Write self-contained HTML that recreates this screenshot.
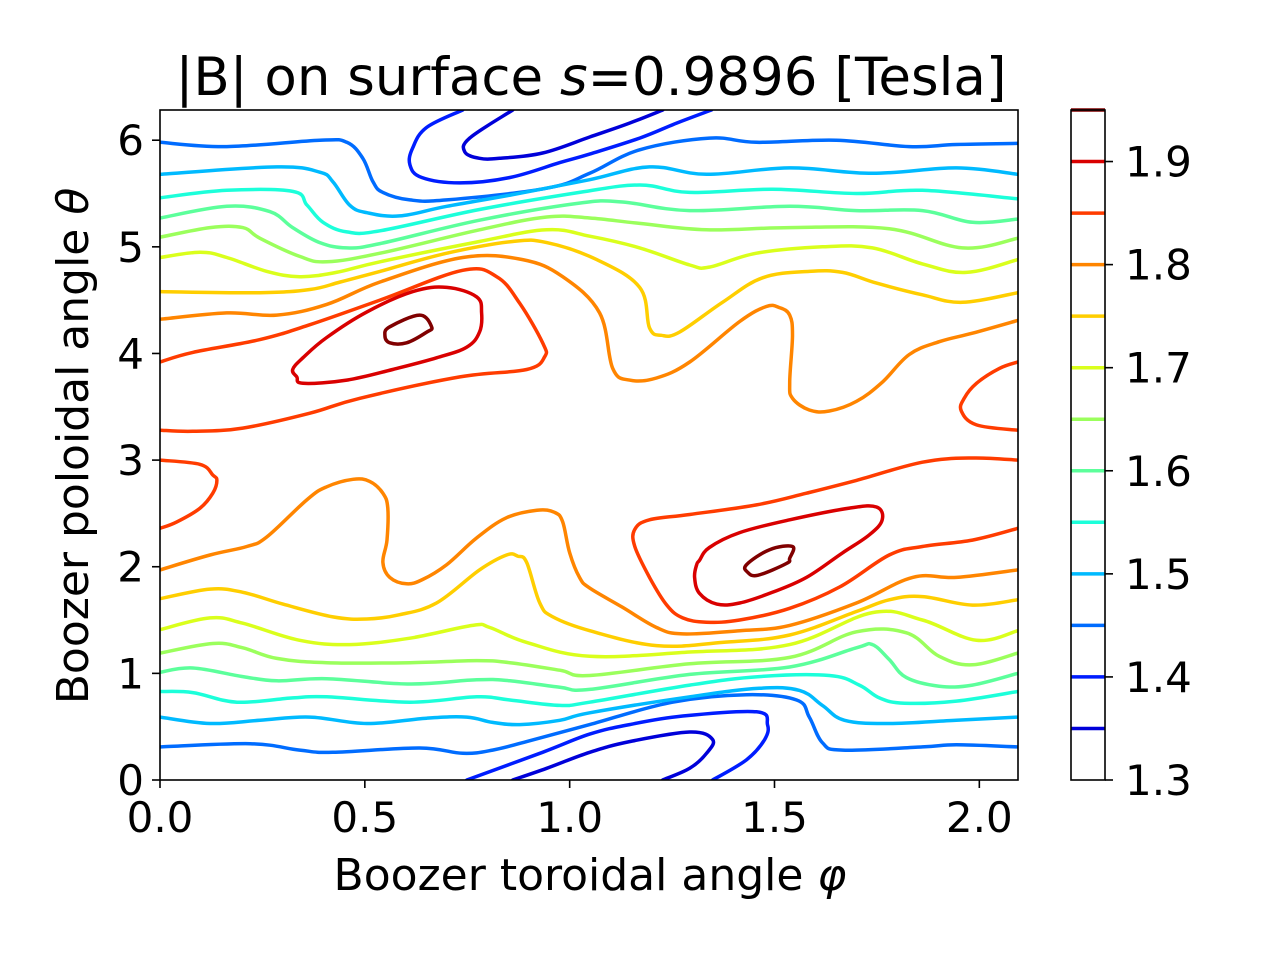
<!DOCTYPE html>
<html><head><meta charset="utf-8"><style>
body{margin:0;background:#fff}
svg text{font-family:"DejaVu Sans","Liberation Sans",sans-serif;fill:#000}
</style></head><body>
<svg id="fig" width="1280" height="960" xmlns="http://www.w3.org/2000/svg">
<rect width="1280" height="960" fill="#fff"/>
<defs><clipPath id="pc"><rect x="160" y="110" width="858" height="670"/></clipPath></defs>
<text x="591" y="95" font-size="53" text-anchor="middle">|B| on surface <tspan font-style="italic">s</tspan>=0.9896 [Tesla]</text>
<g id="lines" clip-path="url(#pc)"></g>
<rect x="160" y="110" width="858" height="670" fill="none" stroke="#000" stroke-width="1.6"/>
<g id="axes"></g>
<text x="590" y="890" font-size="44" text-anchor="middle">Boozer toroidal angle <tspan font-style="italic">φ</tspan></text>
<text transform="translate(88,446) rotate(-90)" font-size="44" text-anchor="middle">Boozer poloidal angle <tspan font-style="italic">θ</tspan></text>
<g id="cbar"></g>
</svg>
<script>
const xTicks=[0,0.5,1.0,1.5,2.0];
const xTickLabels=["0.0","0.5","1.0","1.5","2.0"];
const yTicks=[0,1,2,3,4,5,6];
const cbTicks=[1.3,1.4,1.5,1.6,1.7,1.8,1.9];
const cbLevels=[1.35,1.40,1.45,1.50,1.55,1.60,1.65,1.70,1.75,1.80,1.85,1.90,1.95];
const contourLevels=[1.35,1.35,1.40,1.40,1.45,1.45,1.50,1.50,1.55,1.55,1.60,1.60,1.65,1.65,1.70,1.70,1.75,1.75,1.80,1.80,1.85,1.85,1.85,1.90,1.90,1.95,1.95];
const contourPoints=[
[[0.861,6.283],[0.756,6.02],[0.744,5.89],[0.780,5.83],[0.829,5.83],[0.934,5.88],[1.049,6.03],[1.146,6.16],[1.227,6.283]],
[[0.861,0],[0.944,0.11],[1.049,0.26],[1.146,0.36],[1.293,0.45],[1.349,0.38],[1.334,0.25],[1.293,0.11],[1.227,0]],
[[0.739,6.283],[0.651,6.12],[0.617,5.93],[0.610,5.77],[0.639,5.65],[0.732,5.60],[0.854,5.65],[0.976,5.79],[1.049,5.87],[1.171,6.02],[1.261,6.16],[1.346,6.283]],
[[0.749,0],[0.934,0.26],[1.049,0.43],[1.146,0.52],[1.276,0.60],[1.456,0.64],[1.483,0.52],[1.476,0.38],[1.432,0.19],[1.349,0]],
[[0,5.98],[0.163,5.94],[0.390,6.00],[0.456,5.98],[0.495,5.83],[0.520,5.61],[0.544,5.51],[0.610,5.44],[0.700,5.44],[0.944,5.55],[1.049,5.69],[1.171,5.91],[1.341,6.02],[1.456,5.98],[1.651,6.00],[1.829,5.94],[1.944,5.96],[2.094,5.97]],
[[0,0.31],[0.220,0.34],[0.341,0.28],[0.422,0.26],[0.634,0.30],[0.739,0.25],[0.812,0.28],[0.895,0.36],[1.049,0.52],[1.251,0.73],[1.432,0.80],[1.554,0.75],[1.585,0.59],[1.617,0.35],[1.666,0.28],[1.861,0.31],[1.944,0.33],[2.094,0.31]],
[[0,5.68],[0.285,5.75],[0.390,5.70],[0.422,5.61],[0.463,5.39],[0.505,5.32],[0.585,5.29],[0.700,5.38],[0.861,5.49],[1.049,5.63],[1.195,5.75],[1.334,5.68],[1.537,5.74],[1.739,5.69],[1.944,5.74],[2.094,5.68]],
[[0,0.59],[0.122,0.53],[0.244,0.56],[0.366,0.59],[0.505,0.53],[0.651,0.58],[0.749,0.59],[0.812,0.54],[0.878,0.52],[0.976,0.56],[1.049,0.63],[1.293,0.78],[1.463,0.86],[1.561,0.84],[1.617,0.70],[1.671,0.56],[1.780,0.53],[1.944,0.56],[2.094,0.59]],
[[0,5.46],[0.163,5.53],[0.324,5.52],[0.359,5.39],[0.398,5.23],[0.456,5.14],[0.537,5.15],[0.780,5.35],[1.024,5.51],[1.171,5.58],[1.293,5.51],[1.495,5.54],[1.700,5.50],[1.861,5.53],[2.094,5.45]],
[[0,0.83],[0.080,0.82],[0.188,0.73],[0.324,0.77],[0.407,0.78],[0.610,0.73],[0.773,0.78],[0.854,0.75],[0.976,0.70],[1.049,0.73],[1.293,0.89],[1.463,0.97],[1.634,0.98],[1.707,0.89],[1.756,0.77],[1.817,0.72],[1.944,0.74],[2.094,0.83]],
[[0,5.27],[0.163,5.38],[0.268,5.33],[0.324,5.18],[0.390,5.04],[0.456,4.99],[0.537,5.03],[0.780,5.25],[1.024,5.41],[1.129,5.42],[1.293,5.34],[1.537,5.38],[1.700,5.34],[1.861,5.34],[1.983,5.23],[2.094,5.26]],
[[0,1.01],[0.080,1.05],[0.202,0.97],[0.285,0.93],[0.407,0.95],[0.610,0.90],[0.773,0.94],[0.854,0.93],[0.976,0.87],[1.049,0.85],[1.293,0.99],[1.537,1.06],[1.700,1.24],[1.739,1.27],[1.780,1.13],[1.822,0.96],[1.902,0.88],[1.983,0.89],[2.094,1.00]],
[[0,5.09],[0.122,5.18],[0.202,5.18],[0.244,5.08],[0.341,4.91],[0.407,4.86],[0.537,4.94],[0.780,5.16],[0.944,5.28],[1.049,5.27],[1.171,5.22],[1.334,5.16],[1.537,5.18],[1.780,5.17],[1.959,4.99],[2.094,5.08]],
[[0,1.19],[0.129,1.28],[0.202,1.24],[0.285,1.14],[0.407,1.10],[0.610,1.10],[0.773,1.12],[0.854,1.10],[0.976,1.03],[1.049,0.98],[1.293,1.09],[1.537,1.15],[1.700,1.39],[1.822,1.38],[1.902,1.16],[1.983,1.08],[2.094,1.19]],
[[0,4.90],[0.098,4.95],[0.163,4.90],[0.261,4.77],[0.341,4.72],[0.430,4.76],[0.537,4.86],[0.780,5.05],[0.944,5.16],[1.049,5.10],[1.171,4.99],[1.293,4.83],[1.341,4.81],[1.456,4.94],[1.617,5.00],[1.739,4.99],[1.861,4.84],[1.968,4.76],[2.094,4.88]],
[[0,1.41],[0.122,1.52],[0.202,1.47],[0.341,1.31],[0.463,1.27],[0.610,1.33],[0.763,1.45],[0.805,1.43],[0.895,1.29],[1.049,1.16],[1.293,1.20],[1.537,1.27],[1.739,1.57],[1.861,1.50],[1.993,1.31],[2.094,1.40]],
[[0,4.58],[0.244,4.57],[0.366,4.60],[0.440,4.67],[0.537,4.77],[0.700,4.94],[0.861,5.05],[0.944,5.04],[1.066,4.88],[1.171,4.62],[1.195,4.24],[1.224,4.17],[1.268,4.20],[1.373,4.48],[1.471,4.71],[1.585,4.77],[1.666,4.76],[1.749,4.66],[1.861,4.55],[1.959,4.48],[2.094,4.57]],
[[0,1.70],[0.122,1.79],[0.202,1.76],[0.300,1.65],[0.422,1.53],[0.505,1.51],[0.585,1.55],[0.675,1.66],[0.780,1.97],[0.846,2.11],[0.873,2.10],[0.895,2.04],[0.927,1.66],[0.959,1.53],[1.049,1.40],[1.212,1.26],[1.373,1.29],[1.537,1.36],[1.700,1.58],[1.780,1.69],[1.861,1.72],[1.983,1.64],[2.094,1.69]],
[[0,4.32],[0.163,4.38],[0.285,4.36],[0.407,4.46],[0.537,4.67],[0.739,4.90],[0.885,4.88],[0.983,4.72],[1.073,4.38],[1.105,3.86],[1.146,3.75],[1.212,3.77],[1.293,3.92],[1.415,4.30],[1.480,4.44],[1.512,4.43],[1.537,4.36],[1.544,4.17],[1.537,3.73],[1.544,3.58],[1.585,3.47],[1.634,3.46],[1.700,3.55],[1.763,3.73],[1.829,3.99],[1.902,4.11],[1.983,4.19],[2.094,4.31]],
[[0,1.97],[0.122,2.11],[0.212,2.19],[0.261,2.28],[0.359,2.63],[0.407,2.75],[0.471,2.82],[0.512,2.80],[0.544,2.69],[0.556,2.55],[0.554,2.25],[0.544,2.04],[0.561,1.90],[0.602,1.84],[0.641,1.88],[0.700,2.02],[0.773,2.27],[0.846,2.46],[0.920,2.53],[0.963,2.51],[0.983,2.42],[1.000,2.13],[1.024,1.90],[1.049,1.80],[1.129,1.62],[1.212,1.43],[1.276,1.37],[1.415,1.40],[1.537,1.45],[1.700,1.66],[1.837,1.90],[1.944,1.90],[2.094,1.97]],
[[0,3.92],[0.080,4.01],[0.244,4.13],[0.366,4.27],[0.537,4.50],[0.739,4.78],[0.822,4.72],[0.878,4.47],[0.934,4.10],[0.939,3.97],[0.895,3.85],[0.732,3.78],[0.488,3.58],[0.366,3.44],[0.202,3.30],[0.080,3.27],[0,3.28]],
[[2.094,3.92],[2.049,3.86],[1.993,3.72],[1.963,3.58],[1.956,3.46],[1.993,3.33],[2.094,3.28]],
[[0,3.00],[0.098,2.96],[0.129,2.86],[0.139,2.81],[0.129,2.69],[0.098,2.55],[0.041,2.42],[0,2.36]],
[[0.324,3.85],[0.349,3.96],[0.407,4.15],[0.505,4.39],[0.617,4.58],[0.700,4.62],[0.773,4.53],[0.785,4.38],[0.780,4.20],[0.749,4.06],[0.676,3.96],[0.568,3.85],[0.456,3.75],[0.349,3.72],[0.334,3.78],[0.324,3.85]],
[[1.317,2.06],[1.341,2.18],[1.415,2.32],[1.537,2.44],[1.683,2.55],[1.749,2.56],[1.763,2.44],[1.732,2.30],[1.666,2.13],[1.578,1.90],[1.495,1.76],[1.415,1.66],[1.359,1.65],[1.317,1.75],[1.305,1.90],[1.310,2.02],[1.317,2.06]],
[[0.561,4.25],[0.634,4.36],[0.663,4.25],[0.651,4.20],[0.602,4.10],[0.561,4.10],[0.549,4.17],[0.561,4.25]],
[[1.432,2.02],[1.488,2.16],[1.544,2.19],[1.537,2.08],[1.529,2.03],[1.459,1.92],[1.434,1.95],[1.432,2.02]]
];
const bigFrag=[[2.094,3.00],[1.983,3.02],[1.861,2.98],[1.700,2.81],[1.578,2.69],[1.456,2.58],[1.293,2.49],[1.195,2.44],[1.159,2.35],[1.159,2.19],[1.195,1.90],[1.237,1.64],[1.276,1.52],[1.334,1.48],[1.415,1.50],[1.537,1.61],[1.659,1.81],[1.780,2.11],[1.861,2.19],[1.983,2.25],[2.094,2.36]];
const bigFragLevel=1.85;

const NS="http://www.w3.org/2000/svg";
const X0=160,X1=1018,Y0=780,Y1=110,XMAX=2*Math.PI/3,YMAX=2*Math.PI;
function xs(v){return X0+v/XMAX*(X1-X0);}
function ys(v){return Y0-v/YMAX*(Y0-Y1);}
const CB0=1.3,CB1=1.95;
function cy(v){return 780-(v-CB0)/(CB1-CB0)*670;}
function interp(pts,t){for(let i=1;i<pts.length;i++){if(t<=pts[i][0]){const a=pts[i-1],b=pts[i];return a[1]+(b[1]-a[1])*(t-a[0])/(b[0]-a[0]);}}return pts[pts.length-1][1];}
function jet(v){const t=Math.max(0,Math.min(1,(v-1.30)/0.65));
 const r=interp([[0,0],[0.35,0],[0.66,1],[0.89,1],[1,0.5]],t);
 const g=interp([[0,0],[0.125,0],[0.375,1],[0.64,1],[0.91,0],[1,0]],t);
 const b=interp([[0,0.5],[0.11,1],[0.34,1],[0.65,0],[1,0]],t);
 return `rgb(${Math.round(r*255)},${Math.round(g*255)},${Math.round(b*255)})`;}
function mk(tag,attrs,parent){const e=document.createElementNS(NS,tag);for(const k in attrs)e.setAttribute(k,attrs[k]);parent.appendChild(e);return e;}
function smoothPath(P,closed){
 const n=P.length;let d='M'+P[0][0].toFixed(1)+','+P[0][1].toFixed(1);
 for(let i=0;i<n-1;i++){
  const p0=P[i>0?i-1:(closed?n-2:0)],p1=P[i],p2=P[i+1],p3=P[i+2<n?i+2:(closed?1:n-1)];
  const k=0.18;
  const c1=[p1[0]+(p2[0]-p0[0])*k,p1[1]+(p2[1]-p0[1])*k];
  const c2=[p2[0]-(p3[0]-p1[0])*k,p2[1]-(p3[1]-p1[1])*k];
  d+='C'+c1[0].toFixed(1)+','+c1[1].toFixed(1)+' '+c2[0].toFixed(1)+','+c2[1].toFixed(1)+' '+p2[0].toFixed(1)+','+p2[1].toFixed(1);
 }
 return d;
}
const lg=document.getElementById('lines');
function drawLine(pts,lev,i){
 const P=pts.map(p=>[xs(p[0]),ys(p[1])]);
 const closed=pts.length>2&&pts[0][0]===pts[pts.length-1][0]&&pts[0][1]===pts[pts.length-1][1];
 const p=mk('path',{d:smoothPath(P,closed),fill:'none',stroke:jet(lev),'stroke-width':3.5,'stroke-linejoin':'round','stroke-linecap':'round'},lg);
 
 
}
contourPoints.forEach((pts,i)=>drawLine(pts,contourLevels[i],i));
drawLine(bigFrag,bigFragLevel,'lower');

const ax=document.getElementById('axes');
xTicks.forEach((v,i)=>{
 const l=mk('line',{x1:xs(v),x2:xs(v),y1:780,y2:788,stroke:'#000','stroke-width':1.6},ax);
 
 
 const t=mk('text',{x:xs(v),y:832,'font-size':42,'text-anchor':'middle'},ax);
 
 
 t.textContent=xTickLabels[i];
});
yTicks.forEach(v=>{
 const l=mk('line',{x1:152,x2:160,y1:ys(v),y2:ys(v),stroke:'#000','stroke-width':1.6},ax);
 
 
 const t=mk('text',{x:144,y:ys(v)+15,'font-size':42,'text-anchor':'end'},ax);
 
 
 t.textContent=String(v);
});
const cb=document.getElementById('cbar');
cbLevels.forEach(v=>{
 const l=mk('line',{x1:1071,x2:1105,y1:cy(v),y2:cy(v),stroke:jet(v),'stroke-width':3.5},cb);
 
 
});
const fr=mk('rect',{x:1071,y:110,width:34,height:670,fill:'none',stroke:'#000','stroke-width':1.6},cb);


cbTicks.forEach(v=>{
 const l=mk('line',{x1:1105,x2:1113,y1:cy(v),y2:cy(v),stroke:'#000','stroke-width':1.6},cb);
 
 
 const t=mk('text',{x:1125,y:cy(v)+15,'font-size':42},cb);
 
 
 t.textContent=v.toFixed(1);
});
</script>
</body></html>
